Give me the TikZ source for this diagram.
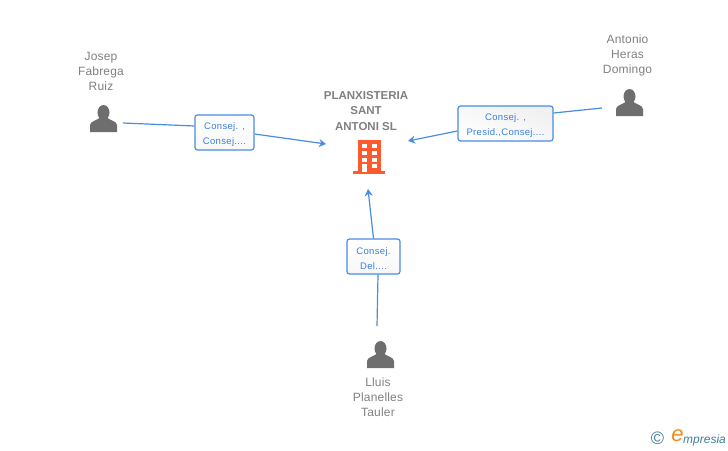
\documentclass[tikz,border=0pt]{standalone}
\usepackage{fontspec}
\setmainfont{Liberation Sans}
\usepackage{xcolor}
\usetikzlibrary{arrows.meta}
\definecolor{linkblue}{HTML}{4A8BE6}
\definecolor{textblue}{HTML}{3A7FE0}
\definecolor{labelgray}{HTML}{808080}
\definecolor{icongray}{HTML}{6E6E6E}
\definecolor{towerred}{HTML}{FF5A2E}
\definecolor{logoteal}{HTML}{3F7F9C}
\definecolor{logoorange}{HTML}{F08A1D}
\newcommand{\boxtop}{\rule{0pt}{10.5pt}}
\tikzset{
  wire/.style={draw=linkblue,line width=1.2pt},
  link/.style={wire,->,>={Stealth[length=7pt,width=8pt]}},
  linkbox/.style={draw=linkblue,line width=1.2pt,rounded corners=2.5pt,top color=white,bottom color=black!3,
    text=textblue,align=center,inner sep=0pt,font=\fontsize{9.5}{15}\selectfont\addfontfeature{LetterSpace=3.5}},
  person/.style={text=labelgray,align=center,inner sep=0pt,font=\fontsize{12}{15}\selectfont\addfontfeature{LetterSpace=1.5}},
  firm/.style={person,font=\fontsize{11.5}{15.5}\selectfont\bfseries},
  personicon/.pic={
    \fill[icongray] (0,-19.5) ellipse [x radius=6,y radius=7.5];
    \fill[icongray] (-13.5,0) -- (-13.5,-7) .. controls (-13.5,-11) and (-5,-12) .. (-3,-15)
      -- (3,-15) .. controls (5,-12) and (13.5,-11) .. (13.5,-7) -- (13.5,0) -- cycle;
  }
}
\begin{document}
\begin{tikzpicture}[x=1pt,y=-1pt]
  \useasboundingbox (0,0) rectangle (728,450);

  % people
  \node[person] (josep)   at (101,71)  {Josep\\Fabrega\\Ruiz};
  \node[person] (antonio) at (627.5,55.5)  {Antonio\\Heras\\Domingo};
  \node[person] (lluis)   at (378,397) {Lluis\\Planelles\\Tauler};
  \pic at (103.5,132) {personicon};
  \pic at (629.5,116) {personicon};
  \pic at (380.5,368) {personicon};

  % company
  \node[firm] (planx) at (366,111) {PLANXISTERIA\\SANT\\ANTONI SL};
  \fill[towerred] (358,140) rectangle (381,172);
  \fill[towerred] (353,171) rectangle (385,174);
  \foreach \wy in {144,151,158}
    \foreach \wx in {362,372}
      \fill[white] (\wx,\wy) rectangle (\wx+4.5,\wy+4);
  \fill[white] (362,164) rectangle (366.5,172);
  \fill[white] (372,164) rectangle (376.5,168);

  % boxes
  \node[linkbox,minimum width=59pt,minimum height=35pt]  (josepbox)   at (224.5,132.5) {\boxtop Consej. ,\\Consej....};
  \node[linkbox,minimum width=95pt,minimum height=35pt,top color=black!6,bottom color=white,shading angle=-20] (antoniobox) at (505.5,123.5) {\boxtop Consej. ,\\Presid.,Consej....};
  \node[linkbox,minimum width=53pt,minimum height=35pt]  (lluisbox)   at (373.5,256.5) {\boxtop Consej.\\Del....};

  % free ends
  \coordinate (josepout)   at (123,123);
  \coordinate (antonioout) at (602,108);
  \coordinate (lluisout)   at (377,326);
  \coordinate (planxwest)  at (326,144);
  \coordinate (planxeast)  at (408,141);
  \coordinate (planxsouth) at (368,189);

  \path (josepout) edge[wire] ([yshift=6.5pt]josepbox.west)
        (antonioout) edge[wire] ([yshift=10.5pt]antoniobox.east)
        (lluisout) edge[wire] ([xshift=4.5pt]lluisbox.south);
  \path ([yshift=-1.5pt]josepbox.east) edge[link] (planxwest)
        ([yshift=-7.5pt]antoniobox.west) edge[link] (planxeast)
        (lluisbox.north) edge[link] (planxsouth);

  % logo
  \node[text=logoteal,inner sep=0pt,font=\fontsize{18}{18}\selectfont] (logoc) at (657.5,438.5) {©};
  \node[text=logoorange,inner sep=0pt,font=\fontsize{22}{22}\selectfont\itshape] (logoe) at (677.5,436) {e};
  \node[text=logoteal,inner sep=0pt,anchor=base west,font=\fontsize{12}{12}\selectfont\itshape] (logotxt) at (683,443) {mpresia};
\end{tikzpicture}
\end{document}
